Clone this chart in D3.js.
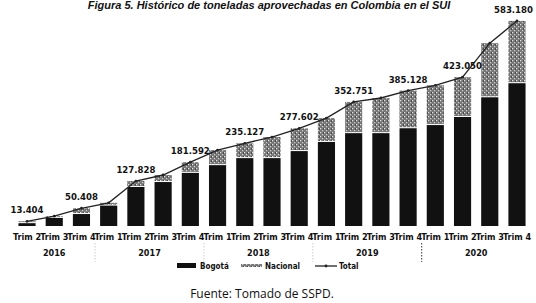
<!DOCTYPE html>
<meta charset="utf-8">
<style>
  body { margin: 0; background: #fff; }
  svg { display: block; }
  text { font-family: "Liberation Sans Narrow", "DejaVu Sans Condensed", "Liberation Sans", sans-serif; fill: #111; }
  .cat { font-size: 9px; font-weight: bold; text-anchor: middle; }
  .year { font-size: 9px; font-weight: bold; text-anchor: middle; }
  .val { font-size: 9.5px; font-weight: bold; }
  .leg { font-size: 8px; font-weight: bold; }
</style>
<body>
<svg width="536" height="303"></svg>
<script src="https://d3js.org/d3.v7.min.js"></script>
<script>
const years = ["2016", "2017", "2018", "2019", "2020"];
const quarters = [
  ["Trim 2", "Trim 3", "Trim 4"],
  ["Trim 1", "Trim 2", "Trim 3", "Trim 4"],
  ["Trim 1", "Trim 2", "Trim 3", "Trim 4"],
  ["Trim 1", "Trim 2", "Trim 3", "Trim 4"],
  ["Trim 1", "Trim 2", "Trim 3", "Trim 4"]
];
// toneladas
const bogota = [8000, 23000, 34000, 58000, 111000, 125000, 151000, 173000, 193000, 193000,
  213000, 239000, 264000, 264000, 278000, 287000, 310000, 366000, 406000];
const total = [13404, 28000, 50408, 66000, 127828, 145000, 181592, 216000, 235127, 253000,
  277602, 307000, 352751, 364000, 385128, 400000, 423050, 520000, 583180];
const labelled = [0, 2, 4, 6, 8, 10, 12, 14, 16, 18];

const rows = [];
years.forEach((y, i) => quarters[i].forEach(q => rows.push({ id: y + "-" + q, year: y, q })));
rows.forEach((r, i) => { r.bogota = bogota[i]; r.total = total[i]; r.nacional = total[i] - bogota[i]; });

const svg = d3.select("svg");

const defs = svg.append("defs");
const pat = defs.append("pattern").attr("id", "speck")
  .attr("width", 4).attr("height", 4).attr("patternUnits", "userSpaceOnUse");
pat.append("rect").attr("width", 4).attr("height", 4).attr("fill", "#777");
pat.append("rect").attr("x", 0).attr("y", 0).attr("width", 1.2).attr("height", 1.2).attr("fill", "#e6e6e6");
pat.append("rect").attr("x", 2).attr("y", 2).attr("width", 1.2).attr("height", 1.2).attr("fill", "#d0d0d0");
pat.append("rect").attr("x", 3).attr("y", 0.5).attr("width", 1).attr("height", 1).attr("fill", "#222");

const x = d3.scaleBand().domain(rows.map(d => d.id)).range([13, 531])
  .paddingInner(0.37).paddingOuter(0.2);
const y = d3.scaleLinear().domain([0, 600000]).range([226, 15]);

svg.append("text").attr("x", 269).attr("y", 9)
  .attr("text-anchor", "middle")
  .style("font-family", "Liberation Sans, sans-serif")
  .style("font-size", "11px").style("font-style", "italic").style("font-weight", "bold")
  .text("Figura 5. Histórico de toneladas aprovechadas en Colombia en el SUI");

const bars = svg.append("g");
bars.selectAll("rect.b").data(rows).join("rect").attr("class", "b")
  .attr("x", d => x(d.id)).attr("width", x.bandwidth())
  .attr("y", d => y(d.bogota)).attr("height", d => y(0) - y(d.bogota))
  .attr("fill", "#111");
bars.selectAll("rect.n").data(rows).join("rect").attr("class", "n")
  .attr("x", d => x(d.id)).attr("width", x.bandwidth())
  .attr("y", d => y(d.total)).attr("height", d => Math.max(0, y(d.bogota) - y(d.total) - 1))
  .attr("fill", "url(#speck)");

const cx = d => x(d.id) + x.bandwidth() / 2;
const line = d3.line().x(cx).y(d => y(d.total));
svg.append("path").datum(rows).attr("d", line)
  .attr("fill", "none").attr("stroke", "#222").attr("stroke-width", 1.3);
svg.append("g").selectAll("circle").data(rows).join("circle")
  .attr("cx", cx).attr("cy", d => y(d.total)).attr("r", 1.4).attr("fill", "#222");

const last = labelled.length - 1;
svg.append("g").selectAll("text").data(labelled.map(i => rows[i])).join("text")
  .attr("class", "val").attr("x", cx).attr("y", d => y(d.total) - 8)
  .style("text-anchor", (d, i) => i === last ? "end" : "middle")
  .attr("dx", (d, i) => i === last ? 16 : 0)
  .text(d => d3.format(",")(d.total).replace(/,/g, "."));

svg.append("g").selectAll("text").data(rows).join("text")
  .attr("class", "cat").attr("x", cx).attr("y", 240).text(d => d.q);

const groups = years.map(yr => rows.filter(r => r.year === yr));
svg.append("g").selectAll("text").data(groups).join("text")
  .attr("class", "year")
  .attr("x", g => (cx(g[0]) + cx(g[g.length - 1])) / 2).attr("y", 256)
  .text(g => g[0].year);
svg.append("g").selectAll("line").data(groups.slice(1)).join("line")
  .attr("x1", g => x(g[0].id) - x.step() * x.paddingInner() / 2)
  .attr("x2", g => x(g[0].id) - x.step() * x.paddingInner() / 2)
  .attr("y1", 243).attr("y2", 262)
  .attr("stroke", (g, i) => i === 3 ? "#333" : "#ccc")
  .attr("stroke-width", 1).attr("stroke-dasharray", "1.5,1.5");

const leg = svg.append("g").attr("transform", "translate(0,266)");
leg.append("rect").attr("x", 177).attr("y", -3).attr("width", 19).attr("height", 5).attr("fill", "#111");
leg.append("text").attr("class", "leg").attr("x", 200).attr("y", 2.5).text("Bogotá");
leg.append("rect").attr("x", 241).attr("y", -2).attr("width", 21).attr("height", 3).attr("fill", "url(#speck)");
leg.append("text").attr("class", "leg").attr("x", 265).attr("y", 2.5).text("Nacional");
leg.append("line").attr("x1", 315).attr("x2", 337).attr("y1", 0).attr("y2", 0)
  .attr("stroke", "#222").attr("stroke-width", 1.3);
leg.append("circle").attr("cx", 326).attr("cy", 0).attr("r", 1.4).attr("fill", "#222");
leg.append("text").attr("class", "leg").attr("x", 339).attr("y", 2.5).text("Total");

svg.append("text").attr("x", 262).attr("y", 298).attr("text-anchor", "middle")
  .style("font-family", "Open Sans, sans-serif").style("font-size", "12px")
  .text("Fuente: Tomado de SSPD.");
</script>
</body>
